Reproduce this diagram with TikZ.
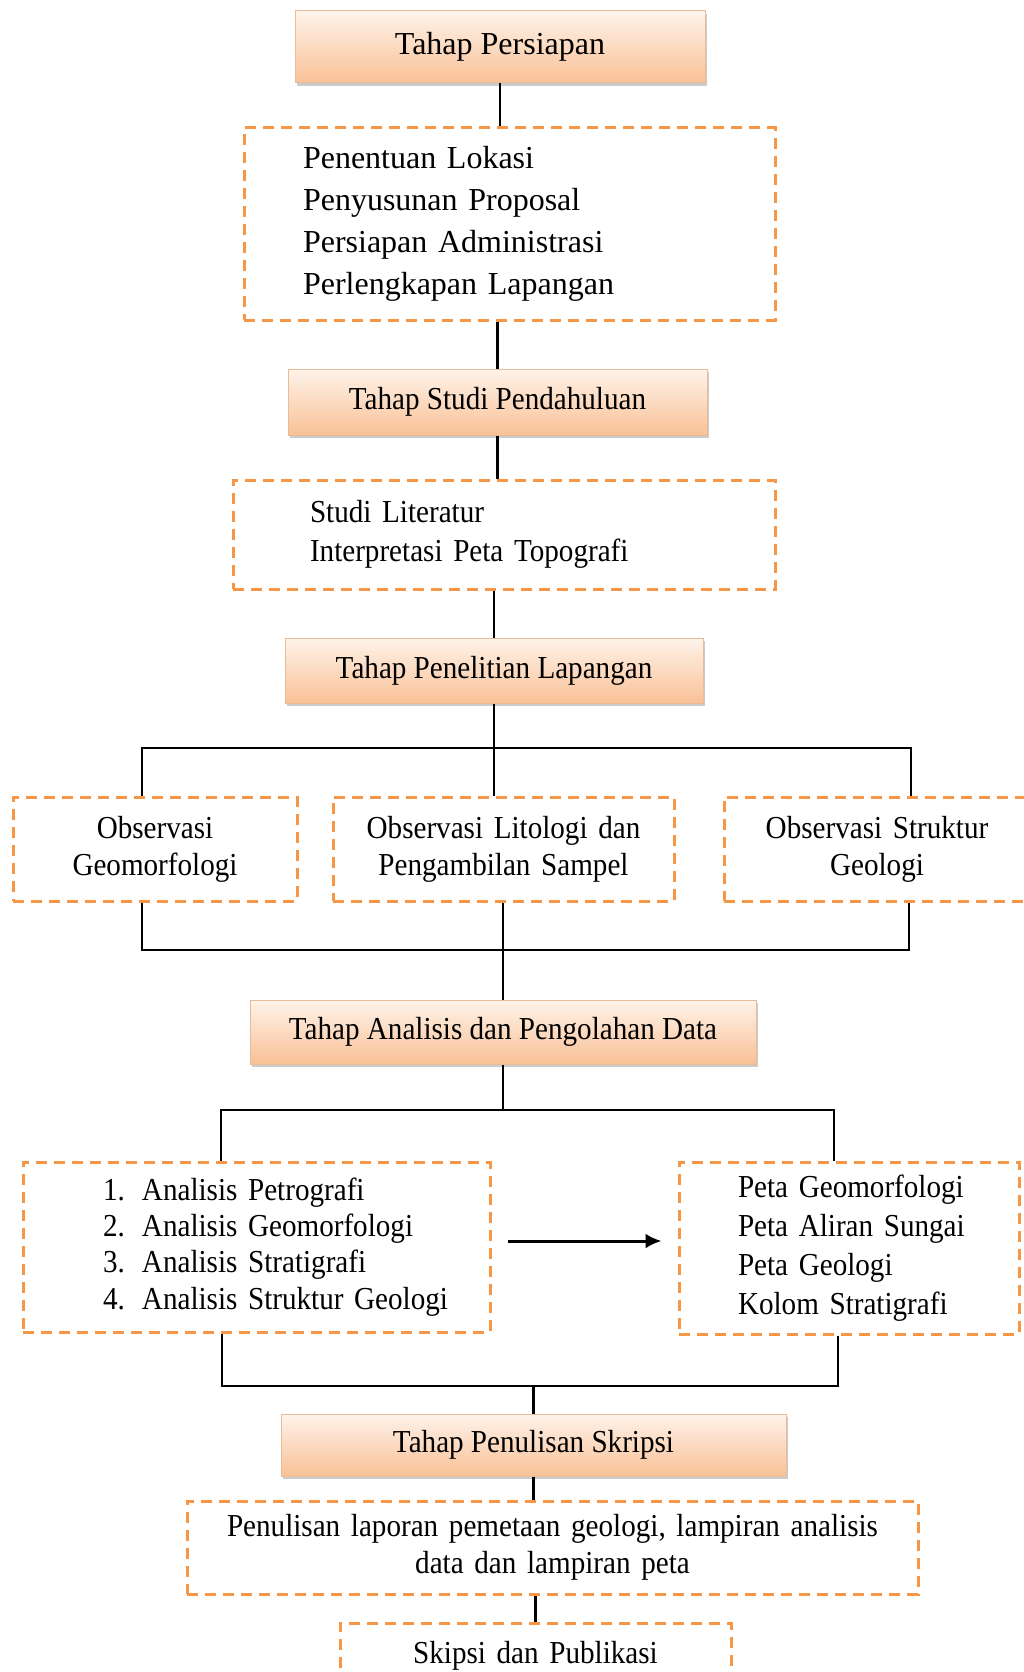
\documentclass[tikz,border=0pt]{standalone}
\usepackage{fontspec}
\setmainfont{Liberation Serif}[FakeStretch=0.91]
\newfontfamily\hurufLebar{Liberation Serif}
\usetikzlibrary{arrows.meta}
\usetikzlibrary{shadows}

\definecolor{peachTop}{HTML}{FEF3EA}
\definecolor{peachBot}{HTML}{F9C196}
\definecolor{peachEdge}{HTML}{E8BC98}
\definecolor{dashOrange}{HTML}{F79646}

\newcommand{\nomor}[1]{\makebox[39pt][l]{#1}}

\tikzset{
    tahap/.style={
        draw=peachEdge, line width=1pt,
        top color=peachTop, bottom color=peachBot,
        drop shadow={shadow xshift=2pt, shadow yshift=-3pt, fill=black!45, opacity=0.45},
        font=\fontsize{32}{42}\selectfont, inner sep=0pt},
    kotak/.style={
        draw=dashOrange, line width=3pt, dash pattern=on 11pt off 7pt,
        fill=white, font=\fontsize{32}{42}\selectfont, inner sep=0pt},
    link/.style={line width=2.5pt, black},
}

\begin{document}
\begin{tikzpicture}[x=1pt, y=-1pt]

\useasboundingbox (0,0) rectangle (1024,1672);
\clip (0,0) rectangle (1024,1672);

% Tahap persiapan
\node [tahap, minimum width=410pt, minimum height=72pt, font=\fontsize{32}{42}\hurufLebar] (persiapan) at (500,47) {Tahap Persiapan};
\node [kotak, align=left, text width=531pt, minimum height=192pt, font=\fontsize{32}{42}\hurufLebar] (kegiatanPersiapan) at (509.5,224)
    {\leftskip=59pt\relax Penentuan Lokasi\\ Penyusunan Proposal\\ Persiapan Administrasi\\ Perlengkapan Lapangan\par};

% Tahap studi pendahuluan
\node [tahap, minimum width=419pt, minimum height=66pt] (studi) at (497.5,402) {Tahap Studi Pendahuluan};
\node [kotak, align=left, text width=542pt, minimum height=109pt, font=\fontsize{32}{39}\selectfont] (kegiatanStudi) at (504,534.5)
    {\leftskip=77pt\relax Studi Literatur\\ Interpretasi Peta Topografi\par};

% Tahap penelitian lapangan
\node [tahap, minimum width=418pt, minimum height=65pt] (lapangan) at (494,670.5) {Tahap Penelitian Lapangan};
\node [kotak, align=center, text width=284pt, minimum height=104pt, font=\fontsize{32}{37}\selectfont] (obsGeo) at (155,849)
    {Observasi\\ Geomorfologi};
\node [kotak, align=center, text width=341pt, minimum height=104pt, font=\fontsize{32}{37}\selectfont] (obsLito) at (503.5,849)
    {Observasi Litologi dan\\ Pengambilan Sampel};
\node [kotak, align=center, text width=306pt, minimum height=104pt, font=\fontsize{32}{37}\selectfont] (obsStr) at (877,849)
    {Observasi Struktur\\ Geologi};

% Tahap analisis
\node [tahap, minimum width=506pt, minimum height=64pt] (analisis) at (503,1032) {Tahap Analisis dan Pengolahan Data};
\node [kotak, align=left, text width=467pt, minimum height=170pt, font=\fontsize{32}{36.3}\selectfont] (listAnalisis) at (256.5,1247)
    {\leftskip=80pt\relax \nomor{1.}Analisis Petrografi\\ \nomor{2.}Analisis Geomorfologi\\
     \nomor{3.}Analisis Stratigrafi\\ \nomor{4.}Analisis Struktur Geologi\par};
\node [kotak, align=left, text width=340pt, minimum height=172pt, font=\fontsize{32}{39}\selectfont] (listPeta) at (849,1248)
    {\leftskip=59pt\relax Peta Geomorfologi\\ Peta Aliran Sungai\\ Peta Geologi\\ Kolom Stratigrafi\par};

% Tahap penulisan
\node [tahap, minimum width=505pt, minimum height=62pt] (penulisan) at (533.5,1445) {Tahap Penulisan Skripsi};
\node [kotak, align=center, text width=731pt, minimum height=93pt, font=\fontsize{32}{37}\selectfont] (laporan) at (552.5,1547.5)
    {Penulisan laporan pemetaan geologi, lampiran analisis\\ data dan lampiran peta};
\node [kotak, align=center, text width=391pt, minimum height=66pt] (skripsi) at (535.5,1656) {Skipsi dan Publikasi};

% Titik cabang
\coordinate (cabang1Kiri) at (142,748);
\coordinate (cabang1Kanan) at (911,748);
\coordinate (gabung1Kiri) at (142,950);
\coordinate (gabung1Kanan) at (909,950);
\coordinate (cabang2Kiri) at (221,1110);
\coordinate (cabang2Kanan) at (834,1110);
\coordinate (gabung2Kiri) at (222,1386);
\coordinate (gabung2Kanan) at (838,1386);

% Garis penghubung
\draw [link] (persiapan.south) -- (persiapan.south |- kegiatanPersiapan.north);
\draw [link] (studi.north) -- (studi.north |- kegiatanPersiapan.south);
\draw [link] (studi.south) -- (studi.south |- kegiatanStudi.north);
\draw [link] (lapangan.north) -- (lapangan.north |- kegiatanStudi.south);

\draw [link] (lapangan.south) -- (lapangan.south |- obsLito.north);
\draw [link] (cabang1Kiri |- obsGeo.north) -- (cabang1Kiri) -- (cabang1Kanan) -- (cabang1Kanan |- obsStr.north);
\draw [link] (gabung1Kiri |- obsGeo.south) -- (gabung1Kiri) -- (gabung1Kanan) -- (gabung1Kanan |- obsStr.south);
\draw [link] (analisis.north) -- (analisis.north |- obsLito.south);

\draw [link] (analisis.south) -- (analisis.south |- cabang2Kiri);
\draw [link] (cabang2Kiri |- listAnalisis.north) -- (cabang2Kiri) -- (cabang2Kanan) -- (cabang2Kanan |- listPeta.north);
\draw [link, line width=3pt, -{Latex[length=16pt, width=15pt]}, shorten <=16pt, shorten >=16pt]
    ([yshift=6pt]listAnalisis.east) -- ([yshift=6pt]listAnalisis.east -| listPeta.west);
\draw [link] (gabung2Kiri |- listAnalisis.south) -- (gabung2Kiri) -- (gabung2Kanan) -- (gabung2Kanan |- listPeta.south);
\draw [link] (penulisan.north) -- (penulisan.north |- gabung2Kiri);

\draw [link] (penulisan.south) -- (penulisan.south |- laporan.north);
\draw [link] (skripsi.north) -- (skripsi.north |- laporan.south);

\end{tikzpicture}
\end{document}
